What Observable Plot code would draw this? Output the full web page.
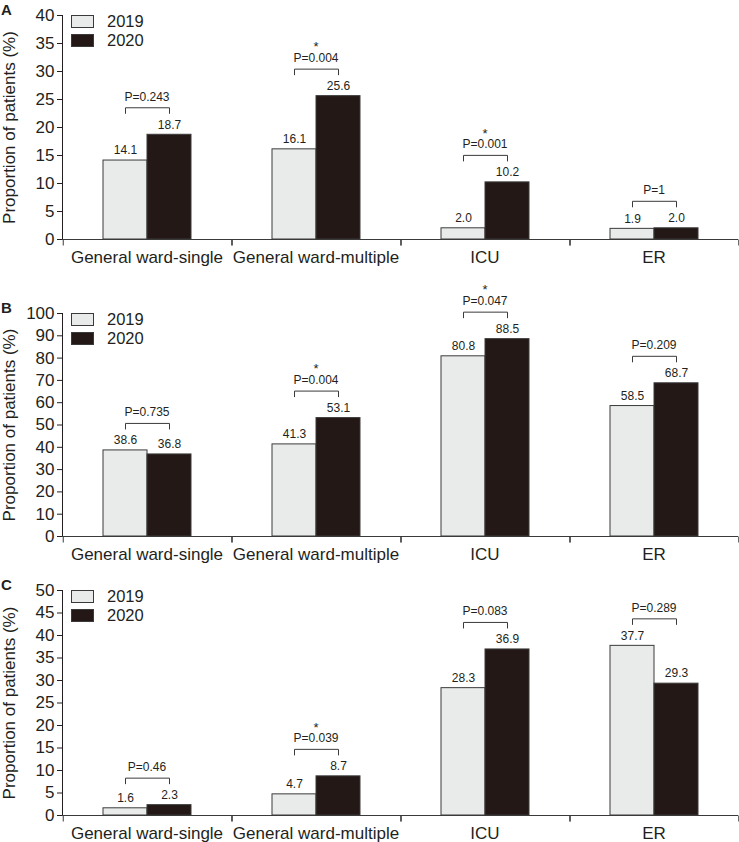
<!DOCTYPE html>
<html><head><meta charset="utf-8">
<script src="https://cdn.jsdelivr.net/npm/d3@7"></script>
<script src="https://cdn.jsdelivr.net/npm/@observablehq/plot@0.6"></script>
<style>
body{margin:0;background:#fff;}
#chart{width:739px;}
#chart svg{display:block;}
</style></head><body><div id="chart"></div>
<script>
const categories = ["General ward-single", "General ward-multiple", "ICU", "ER"];
const years = ["2019", "2020"];
const yLabel = "Proportion of patients (%)";

const valuesA2019 = [14.1, 16.1, 2.0, 1.9];
const valuesA2020 = [18.7, 25.6, 10.2, 2.0];
const pValuesA = ["P=0.243", "P=0.004", "P=0.001", "P=1"];
const sigA = [false, true, true, false];
const yTicksA = [0, 5, 10, 15, 20, 25, 30, 35, 40];

const valuesB2019 = [38.6, 41.3, 80.8, 58.5];
const valuesB2020 = [36.8, 53.1, 88.5, 68.7];
const pValuesB = ["P=0.735", "P=0.004", "P=0.047", "P=0.209"];
const sigB = [false, true, true, false];
const yTicksB = [0, 10, 20, 30, 40, 50, 60, 70, 80, 90, 100];

const valuesC2019 = [1.6, 4.7, 28.3, 37.7];
const valuesC2020 = [2.3, 8.7, 36.9, 29.3];
const pValuesC = ["P=0.46", "P=0.039", "P=0.083", "P=0.289"];
const sigC = [false, true, false, false];
const yTicksC = [0, 5, 10, 15, 20, 25, 30, 35, 40, 45, 50];

const FILL19 = "#e9ebea", FILL20 = "#231815", EDGE = "#3a3a3a", INK = "#231f20";
const FONT = "'Liberation Sans', Arial, Helvetica, sans-serif";

function panel({letter, v2019, v2020, pvals, sig, yTicks, mt, inner, mb}) {
  const W = 739, ml = 62, mr = 1;
  const yMax = yTicks[yTicks.length - 1];
  const u = yMax / inner;               // data units per pixel
  const facetW = (W - ml - mr) / categories.length;
  const pad = 0.9;
  const step = facetW / (2 + 2 * pad);
  const edge = step / 2 + pad * step;    // band centre -> facet edge

  const bars = categories.flatMap((c, i) => [
    {cat: c, year: years[0], v: v2019[i]},
    {cat: c, year: years[1], v: v2020[i]}
  ]);
  const tests = categories.map((c, i) => ({
    cat: c, p: pvals[i], sig: sig[i], top: Math.max(v2019[i], v2020[i])
  }));
  const ends = tests.flatMap(t => years.map(y => ({...t, year: y})));

  const svg = Plot.plot({
    width: W, height: mt + inner + mb,
    marginLeft: ml, marginRight: mr, marginTop: mt, marginBottom: mb,
    style: {fontFamily: FONT, fontSize: "17px", color: INK, background: "#fff", overflow: "visible"},
    fx: {domain: categories, padding: 0, label: null, axis: "bottom", tickSize: 0, tickPadding: 11},
    x: {domain: years, paddingInner: 0, paddingOuter: pad, axis: null},
    y: {domain: [0, yMax], ticks: yTicks, tickSize: 5, tickPadding: 3, line: true,
        label: yLabel, labelAnchor: "center", labelArrow: "none", labelOffset: 60},
    color: {domain: years, range: [FILL19, FILL20]},
    marks: [
      Plot.barY(bars, {fx: "cat", x: "year", y: "v", fill: "year", stroke: EDGE, strokeWidth: 1}),
      Plot.ruleY([0], {stroke: EDGE}),
      Plot.link(categories, {fx: d => d, x1: () => years[0], x2: () => years[0],
        y1: () => 0, y2: () => -6 * u, dx: -edge, stroke: EDGE}),
      Plot.link(categories, {fx: d => d, x1: () => years[1], x2: () => years[1],
        y1: () => 0, y2: () => -6 * u, dx: edge, stroke: EDGE}),
      Plot.text(bars, {fx: "cat", x: "year", y: "v", text: d => d.v.toFixed(1),
        dy: -10, lineAnchor: "middle", fontSize: 12, fill: INK}),
      Plot.link(tests, {fx: "cat", x1: () => years[0], x2: () => years[1],
        y1: d => d.top + 27 * u, y2: d => d.top + 27 * u, stroke: EDGE}),
      Plot.link(ends, {fx: "cat", x1: "year", x2: "year",
        y1: d => d.top + 21 * u, y2: d => d.top + 27 * u, stroke: EDGE}),
      Plot.text(tests, {fx: "cat", y: d => d.top + 27 * u, text: "p",
        dy: -11, lineAnchor: "middle", fontSize: 12, fill: INK}),
      Plot.text(tests.filter(d => d.sig), {fx: "cat", y: d => d.top + 27 * u, text: () => "*",
        dy: -22, lineAnchor: "middle", fontSize: 13, fill: INK})
    ]
  });

  const s = d3.select(svg);
  s.append("text").attr("x", 1).attr("y", mt).attr("text-anchor", "start")
    .attr("font-weight", "bold").attr("font-size", 15).attr("fill", INK).text(letter);
  const lg = s.append("g").attr("transform", `translate(${ml + 9},${mt})`);
  years.forEach((y, i) => {
    lg.append("rect").attr("x", 0.5).attr("y", i * 19 + 0.5).attr("width", 22).attr("height", 12)
      .attr("fill", i === 0 ? FILL19 : FILL20).attr("stroke", EDGE);
    lg.append("text").attr("x", 36).attr("y", i * 19 + 6).attr("dy", "0.36em")
      .attr("text-anchor", "start").attr("font-size", 16.5).attr("fill", INK).text(y);
  });
  return svg;
}

const root = document.getElementById("chart");
root.append(panel({letter: "A", v2019: valuesA2019, v2020: valuesA2020, pvals: pValuesA, sig: sigA,
  yTicks: yTicksA, mt: 15, inner: 224, mb: 30}));
root.append(panel({letter: "B", v2019: valuesB2019, v2020: valuesB2020, pvals: pValuesB, sig: sigB,
  yTicks: yTicksB, mt: 44, inner: 223, mb: 30}));
root.append(panel({letter: "C", v2019: valuesC2019, v2020: valuesC2020, pvals: pValuesC, sig: sigC,
  yTicks: yTicksC, mt: 24, inner: 225, mb: 27}));
</script></body></html>
